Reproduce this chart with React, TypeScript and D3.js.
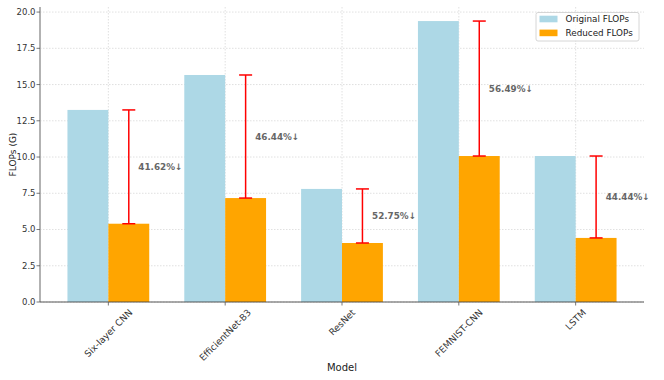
import React from "react";
import * as d3 from "d3";

const models = ["Six-layer CNN", "EfficientNet-B3", "ResNet", "FEMNIST-CNN", "LSTM"];
const originalFlops = [13.25, 15.66, 7.8, 19.38, 10.07];
const reducedFlops = [5.4, 7.17, 4.07, 10.07, 4.42];
const reductionLabels = ["41.62%↓", "46.44%↓", "52.75%↓", "56.49%↓", "44.44%↓"];
const yTicks = [0, 2.5, 5, 7.5, 10, 12.5, 15, 17.5, 20];

const W = 664;
const H = 380;
const M = { left: 40, right: 644, top: 7, bottom: 302 };
const FONT = "DejaVu Sans, sans-serif";
const XT_SIZE = 9.2;

function measure(text: string, size: number): number {
  if (typeof document === "undefined") return text.length * size * 0.6;
  const c = document.createElement("canvas");
  const ctx = c.getContext("2d");
  if (!ctx) return text.length * size * 0.6;
  ctx.font = `${size}px "DejaVu Sans"`;
  return ctx.measureText(text).width;
}

export default function App() {
  const x = d3.scaleLinear().domain([-0.585, models.length - 1 + 0.585]).range([M.left, M.right]);
  const y = d3.scaleLinear().domain([0, 20.35]).range([M.bottom, M.top]);
  const bw = 0.35;
  const pw = x(bw) - x(0);
  const s45 = Math.SQRT1_2;

  return (
    <svg width={W} height={H} style={{ position: "absolute", left: 0, top: 0, background: "#fff" }}>
      {/* grid */}
      {yTicks.map((t) => (
        <line key={"gy" + t} x1={M.left} x2={M.right} y1={y(t)} y2={y(t)} stroke="#d8d8d8" strokeWidth={0.8} strokeDasharray="1.5,1.5" />
      ))}
      {models.map((m, i) => (
        <line key={"gx" + m} x1={x(i)} x2={x(i)} y1={M.top} y2={M.bottom} stroke="#d8d8d8" strokeWidth={0.8} strokeDasharray="1.5,1.5" />
      ))}
      {/* bars */}
      {models.map((m, i) => (
        <g key={"b" + m}>
          <rect x={x(i - bw)} width={pw} y={y(originalFlops[i])} height={y(0) - y(originalFlops[i])} fill="#ADD8E6" />
          <rect x={x(i)} width={pw} y={y(reducedFlops[i])} height={y(0) - y(reducedFlops[i])} fill="#FFA500" />
        </g>
      ))}
      {/* error bars */}
      {models.map((m, i) => {
        const cx = x(i + bw / 2);
        return (
          <g key={"e" + m} stroke="#ff0000" strokeWidth={1.5}>
            <line x1={cx} x2={cx} y1={y(reducedFlops[i])} y2={y(originalFlops[i])} />
            <line x1={cx - 6.5} x2={cx + 6.5} y1={y(reducedFlops[i])} y2={y(reducedFlops[i])} />
            <line x1={cx - 6.5} x2={cx + 6.5} y1={y(originalFlops[i])} y2={y(originalFlops[i])} />
          </g>
        );
      })}
      {/* labels */}
      {models.map((m, i) => (
        <text
          key={"l" + m}
          x={x(i + bw / 2 + 0.082)}
          y={y((originalFlops[i] + reducedFlops[i]) / 2)}
          dy="0.35em"
          fontFamily={FONT}
          fontSize={8.8}
          fontWeight="bold"
          fill="#666"
        >
          {reductionLabels[i]}
        </text>
      ))}
      {/* spines */}
      <line x1={M.left} x2={M.left} y1={M.top} y2={M.bottom} stroke="#aaa" strokeWidth={1.8} />
      <line x1={M.left} x2={M.right} y1={M.bottom} y2={M.bottom} stroke="#444" strokeWidth={0.9} />
      {/* y ticks */}
      {yTicks.map((t) => (
        <g key={"yt" + t}>
          <line x1={M.left - 3.5} x2={M.left} y1={y(t)} y2={y(t)} stroke="#555" strokeWidth={0.8} />
          <text x={M.left - 4.5} y={y(t)} dy="0.35em" textAnchor="end" fontFamily={FONT} fontSize={8.5} fill="#333">
            {t.toFixed(1)}
          </text>
        </g>
      ))}
      {/* x ticks */}
      {models.map((m, i) => {
        const len = measure(m, XT_SIZE);
        const h = XT_SIZE * 1.17;
        const bboxH = (len + h) * s45;
        const cy = M.bottom + 5 + bboxH / 2;
        return (
          <g key={"xt" + m}>
            <line x1={x(i)} x2={x(i)} y1={M.bottom} y2={M.bottom + 3.5} stroke="#555" strokeWidth={0.8} />
            <text
              transform={`translate(${x(i)},${cy}) rotate(-45)`}
              textAnchor="middle"
              dy="0.35em"
              fontFamily={FONT}
              fontSize={XT_SIZE}
              fill="#333"
            >
              {m}
            </text>
          </g>
        );
      })}
      {/* axis labels */}
      <text x={(M.left + M.right) / 2} y={370.5} textAnchor="middle" fontFamily={FONT} fontSize={10} fill="#222">
        Model
      </text>
      <text transform={`translate(13,${(M.top + M.bottom) / 2}) rotate(-90)`} dy="0.35em" textAnchor="middle" fontFamily={FONT} fontSize={9} fill="#222">
        FLOPs (G)
      </text>
      {/* legend */}
      <g>
        <rect x={536} y={12.5} width={103} height={28.5} rx={2} fill="#fff" fillOpacity={0.8} stroke="#ccc" strokeWidth={0.8} />
        <rect x={539.5} y={15.7} width={18} height={6.6} fill="#ADD8E6" />
        <rect x={539.5} y={29.6} width={18} height={6.6} fill="#FFA500" />
        <text x={565.5} y={19} dy="0.35em" fontFamily={FONT} fontSize={8.8} fill="#222">Original FLOPs</text>
        <text x={565.5} y={32.9} dy="0.35em" fontFamily={FONT} fontSize={8.8} fill="#222">Reduced FLOPs</text>
      </g>
    </svg>
  );
}
